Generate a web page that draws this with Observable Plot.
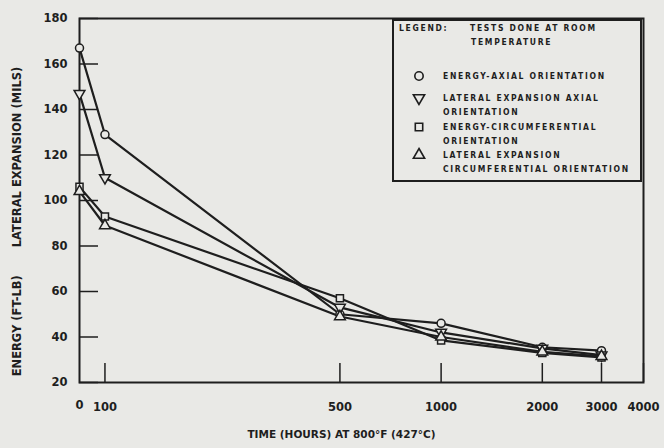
<!DOCTYPE html>
<html>
<head>
<meta charset="utf-8">
<script src="https://cdn.jsdelivr.net/npm/d3@7"></script>
<script src="https://cdn.jsdelivr.net/npm/@observablehq/plot@0.6"></script>
<style>
  html, body { margin: 0; padding: 0; background: #e9e9e6; }
  #wrap { position: relative; width: 664px; height: 448px; }
  #legend { position: absolute; left: 0; top: 0; pointer-events: none; }
</style>
</head>
<body>
<div id="wrap"></div>
<script>
// ---- data ----
const times = [0, 100, 500, 1000, 2000, 3000];
const energyAxial   = [167, 129, 50, 46, 35.5, 34];
const lateralAxial  = [147, 110, 53, 42, 35, 32];
const energyCirc    = [106, 93, 57, 38.5, 33, 31];
const lateralCirc   = [104, 89, 49, 40, 33.5, 31.5];
const seriesNames = ["ENERGY-AXIAL ORIENTATION", "LATERAL EXPANSION AXIAL ORIENTATION",
                     "ENERGY-CIRCUMFERENTIAL ORIENTATION", "LATERAL EXPANSION CIRCUMFERENTIAL ORIENTATION"];
const xTicks = [0, 100, 500, 1000, 2000, 3000, 4000];
const yTicks = [20, 40, 60, 80, 100, 120, 140, 160, 180];
// the time axis is logarithmic; "0" is drawn at the origin of the broken log axis
const ZERO_AT = 84;
const toAxis = t => (t === 0 ? ZERO_AT : t);

const seriesValues = [energyAxial, lateralAxial, energyCirc, lateralCirc];
const rows = [];
seriesNames.forEach((s, i) => times.forEach((t, j) => rows.push({series: s, time: t, value: seriesValues[i][j]})));

const BG = "#e9e9e6", INK = "#1e1e1e";

const chart = Plot.plot({
  width: 664, height: 448,
  marginLeft: 79, marginRight: 21, marginTop: 18, marginBottom: 66,
  style: {background: BG, color: INK, fontFamily: "DejaVu Sans", fontWeight: "bold", fontSize: "11.5px"},
  x: {type: "log", domain: [ZERO_AT, 4000]},
  y: {domain: [20, 180]},
  symbol: {domain: seriesNames, range: ["circle", "triangle", "square", "triangle"]},
  marks: [
    Plot.frame({stroke: INK, strokeWidth: 2}),
    Plot.axisX({ticks: xTicks.filter(t => t > 0), tickSize: -19, tickPadding: 39,
      tickFormat: d => String(d), label: null, strokeWidth: 1.5}),
    // label of the origin tick ("0") of the broken log axis
    Plot.text(xTicks.filter(t => t === 0), {x: toAxis, text: d => String(d), frameAnchor: "bottom", dy: 26}),
    Plot.axisY({ticks: yTicks, tickSize: -19, tickPadding: 31, tickFormat: d => String(d), label: null,
      strokeWidth: 1.5}),
    Plot.line(rows, {x: d => toAxis(d.time), y: "value", z: "series", stroke: INK, strokeWidth: 2.2}),
    Plot.dot(rows, {x: d => toAxis(d.time), y: "value", symbol: "series", r: 4, fill: BG, stroke: INK, strokeWidth: 1.5,
      rotate: d => (d.series === seriesNames[1] ? 180 : 0)}),
    Plot.text(["TIME (HOURS) AT 800\u00b0F (427\u00b0C)"], {frameAnchor: "bottom", dy: 55, dx: -20,
      fontSize: 10.5, letterSpacing: 1.1, textAnchor: "middle"}),
    Plot.text(["ENERGY (FT-LB)\u00a0\u00a0\u00a0\u00a0\u00a0\u00a0\u00a0LATERAL EXPANSION (MILS)"],
      {frameAnchor: "left", rotate: -90, dx: -62, dy: 21, fontSize: 11.5, letterSpacing: 1.5, textAnchor: "middle"})
  ]
});
document.getElementById("wrap").appendChild(chart);

// ---- legend box (annotation inside the plot) ----
const legendTitle = ["LEGEND:", "TESTS DONE AT ROOM", "TEMPERATURE"];
const legendLines = [
  ["ENERGY-AXIAL ORIENTATION"],
  ["LATERAL EXPANSION AXIAL", "ORIENTATION"],
  ["ENERGY-CIRCUMFERENTIAL", "ORIENTATION"],
  ["LATERAL EXPANSION", "CIRCUMFERENTIAL ORIENTATION"]
];
const legendSymbols = [d3.symbolCircle, d3.symbolTriangle, d3.symbolSquare, d3.symbolTriangle];
const svg = d3.select("#wrap").append("svg").attr("id", "legend").attr("width", 664).attr("height", 448)
  .style("font-family", "DejaVu Sans Condensed").style("font-weight", "bold").style("fill", INK)
  .style("font-size", "8.5px").style("letter-spacing", "1.7px");
svg.append("rect").attr("x", 393).attr("y", 20).attr("width", 248).attr("height", 161)
  .attr("fill", BG).attr("stroke", INK).attr("stroke-width", 2);
svg.append("text").attr("x", 399).attr("y", 31).text(legendTitle[0]);
svg.append("text").attr("x", 470).attr("y", 31).text(legendTitle[1]);
svg.append("text").attr("x", 471).attr("y", 45).text(legendTitle[2]);
const itemY = [76, 98, 127, 155];
legendLines.forEach((lines, i) => {
  svg.append("path").attr("d", d3.symbol(legendSymbols[i], 55)())
    .attr("transform", `translate(419,${itemY[i]}) rotate(${i === 1 ? 180 : 0})`)
    .attr("fill", "none").attr("stroke", INK).attr("stroke-width", 1.6);
  lines.forEach((ln, k) => {
    svg.append("text").attr("x", 443).attr("y", itemY[i] + 3 + k * 14).text(ln);
  });
});
</script>
</body>
</html>
